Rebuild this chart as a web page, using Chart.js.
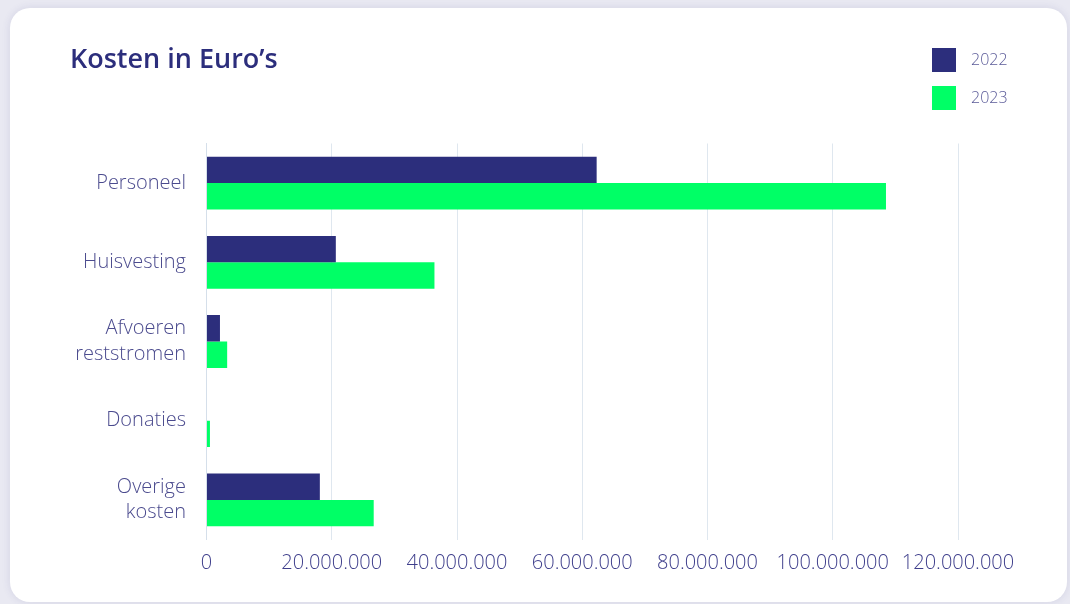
<!DOCTYPE html>
<html>
<head>
<meta charset="utf-8">
<script src="https://cdn.jsdelivr.net/npm/chart.js@4"></script>
<style>
  html, body { margin: 0; padding: 0; }
  body { width: 1070px; height: 604px; background: #e9e9f2; position: relative; overflow: hidden; font-family: "Open Sans", sans-serif; }
  #card { position: absolute; left: 10px; top: 8px; width: 1057px; height: 594px; background: #ffffff; border-radius: 20px; box-shadow: 0 0 8px rgba(60, 60, 130, 0.12); }
  #wrap { position: absolute; left: 0; top: 0; width: 1057px; height: 594px; }
</style>
</head>
<body>
<div id="card"><div id="wrap"><canvas id="c"></canvas></div></div>
<script>
const title = "Kosten in Euro’s";
const categories = ["Personeel", "Huisvesting", ["Afvoeren", "reststromen"], "Donaties", ["Overige", "kosten"]];
const seriesNames = ["2022", "2023"];
const values2022 = [62300000, 20650000, 2150000, 0, 18100000];
const values2023 = [108500000, 36400000, 3300000, 550000, 26700000];
const seriesColors = ["#2c2e7c", "#00ff66"];
const axisMax = 120000000;
const axisStep = 20000000;

function fmt(v) {
  return String(Math.round(v)).replace(/\B(?=(\d{3})+(?!\d))/g, ".");
}

const headerPlugin = {
  id: "header",
  afterDraw(chart) {
    const ctx = chart.ctx;
    ctx.save();
    ctx.fillStyle = "#2c2e7c";
    ctx.font = "600 27px 'Open Sans'";
    ctx.textAlign = "left";
    ctx.textBaseline = "alphabetic";
    ctx.fillText(title, 60, 60);
    const ds = chart.data.datasets;
    ds.forEach((d, i) => {
      const y = 40 + i * 38;
      ctx.fillStyle = d.backgroundColor;
      ctx.fillRect(922, y, 24, 24);
      ctx.fillStyle = "#5a5a98";
      ctx.font = "300 16px 'Open Sans'";
      ctx.textBaseline = "middle";
      ctx.fillText(d.label, 961, y + 12);
    });
    ctx.restore();
  }
};

new Chart(document.getElementById("c"), {
  type: "bar",
  data: {
    labels: categories,
    datasets: [
      { label: seriesNames[0], data: values2022, backgroundColor: seriesColors[0], borderWidth: 0 },
      { label: seriesNames[1], data: values2023, backgroundColor: seriesColors[1], borderWidth: 0 }
    ]
  },
  options: {
    indexAxis: "y",
    responsive: true,
    maintainAspectRatio: false,
    animation: false,
    datasets: { bar: { categoryPercentage: 0.667, barPercentage: 1.0 } },
    layout: { padding: { top: 135.5, right: 109, left: 0, bottom: 0 } },
    plugins: {
      legend: { display: false },
      title: { display: false },
      tooltip: { enabled: false }
    },
    scales: {
      x: {
        min: 0,
        max: axisMax,
        ticks: {
          stepSize: axisStep,
          color: "#3f3f8c",
          font: { family: "'Open Sans'", size: 20, weight: "300" },
          padding: 12,
          maxRotation: 0,
          callback: (v) => fmt(v)
        },
        grid: { color: "#dfe7ef", lineWidth: 1, drawTicks: false },
        border: { display: false },
        afterFit(scale) { scale.height = 62.5; }
      },
      y: {
        ticks: {
          color: "#4b4b8e",
          font: { family: "'Open Sans'", size: 20, weight: "300", lineHeight: 1.28 },
          padding: 20.5
        },
        grid: { display: false, drawTicks: false },
        border: { display: true, color: "#d5dfea", width: 1 },
        afterFit(scale) { scale.width = 196.5; }
      }
    }
  },
  plugins: [headerPlugin]
});
</script>
</body>
</html>
